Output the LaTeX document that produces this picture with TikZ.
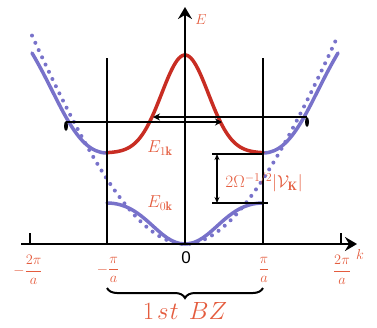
\documentclass[tikz,border=0pt]{standalone}
\usepackage{fontspec}
\newfontfamily\zerofont{Liberation Sans}
\usetikzlibrary{arrows.meta,decorations.pathreplacing,shapes.geometric}
\definecolor{txtred}{RGB}{228,92,62}
\definecolor{curvered}{RGB}{200,45,35}
\definecolor{bandblue}{RGB}{120,114,202}
\tikzset{
  axisline/.style={line width=2.5pt,-{Stealth[length=12pt,width=14pt,inset=4pt]}},
  zoneline/.style={line width=1.2pt},
  blueband/.style={bandblue,line width=3.5pt,line cap=round},
  redband/.style={curvered,line width=3.5pt,line cap=round},
  freedots/.style={bandblue,line width=4pt,line cap=round,dash pattern=on 0pt off 8pt},
  harrow/.style={line width=1.4pt,-{Stealth[length=7pt,width=7pt]}},
  gaparrow/.style={line width=1.1pt,{Stealth[length=6pt,width=5pt]}-{Stealth[length=6pt,width=5pt]}},
  blob/.style={ellipse,fill=black,minimum width=4pt,minimum height=10pt,inner sep=0pt},
  lbl/.style={text=txtred,inner sep=0pt,font=\fontsize{17.5}{20}\selectfont},
  axlbl/.style={text=txtred,inner sep=0pt,font=\fontsize{15.5}{18}\selectfont},
  ticklbl/.style={text=txtred,inner sep=0pt,font=\fontsize{14}{16}\selectfont},
}
\begin{document}
\begin{tikzpicture}[x=1pt,y=-1pt]
\useasboundingbox (0,0) rectangle (377,327);
% free-electron parabola (dotted)
\draw[freedots] plot[domain=-1.53:1.53,samples=121,smooth] ({185+100*\x},{244-125*\x*\x+23.5*abs(\x)*\x*\x});
% lower band
\draw[blueband] (107,203) .. controls (145,203) and (158,244) .. (185,244) .. controls (212,244) and (225,203) .. (263,203);
% upper band outer parts
\draw[blueband] (107,153) .. controls (75,153) and (60,100) .. (32,53);
\draw[blueband] (263,153) .. controls (295,153) and (310,100) .. (338,53);
% upper band inner part
\draw[redband] plot[domain=-78:78,samples=90,smooth] ({185+\x},{153-98*exp(0-(\x/33)*(\x/33))});
% zone boundaries
\coordinate (zlb) at (107,244); \coordinate (zlt) at (107,58);
\coordinate (zrb) at (263,244); \coordinate (zrt) at (263,58);
\draw[zoneline] (zlb) -- (zlt);
\draw[zoneline] (zrb) -- (zrt);
% axes
\coordinate (kstart) at (21,244); \coordinate (kend) at (357,244);
\coordinate (O) at (185,244); \coordinate (Etop) at (185,7);
\draw[axisline] (kstart) -- (kend);
\draw[axisline] (O) -- (Etop);
\coordinate (tl0) at (30,244); \coordinate (tl1) at (30,233);
\coordinate (tr0) at (341,244); \coordinate (tr1) at (341,233);
\draw[line width=2pt] (tl0) -- (tl1);
\draw[line width=2pt] (tr0) -- (tr1);
% umklapp arrows
\node[blob] (bl) at (66,126) {};
\node[blob] (br) at (307,122) {};
\coordinate (la) at (66,122); \coordinate (lb) at (222,122);
\coordinate (ra) at (307,117); \coordinate (rb) at (153,117);
\draw[harrow] (la) -- (lb);
\draw[harrow] (ra) -- (rb);
% gap
\coordinate (g1a) at (212,154); \coordinate (g1b) at (263,154);
\coordinate (g2a) at (212,203); \coordinate (g2b) at (268,203);
\draw[zoneline] (g1a) -- (g1b);
\draw[zoneline] (g2a) -- (g2b);
\coordinate (gt) at (217,154); \coordinate (gb) at (217,203);
\draw[gaparrow] (gt) -- (gb);
% labels
\node[axlbl] (Elab) at (201,20) {$E$};
\node[axlbl] (klab) at (360,254) {$k$};
\node[lbl] (E1) at (160,148) {$E_{1\mathbf{k}}$};
\node[lbl] (E0) at (160,203) {$E_{0\mathbf{k}}$};
\node[lbl] (gaplab) at (264,182) {$2\Omega^{-1/2}|\mathcal{V}_{\mathbf{K}}|$};
\node[ticklbl] (m2) at (28,270) {$-\displaystyle\frac{2\pi}{a}$};
\node[ticklbl] (m1) at (108,270) {$-\displaystyle\frac{\pi}{a}$};
\node[ticklbl] (p1) at (264,270) {$\displaystyle\frac{\pi}{a}$};
\node[ticklbl] (p2) at (342,270) {$\displaystyle\frac{2\pi}{a}$};
\node[inner sep=0pt,font=\zerofont\fontsize{17}{19}\selectfont] (zero) at (186,258) {0};
% first Brillouin zone brace
\coordinate (bra) at (263,288); \coordinate (brb) at (107,288);
\draw[line width=2pt,decorate,decoration={brace,amplitude=10pt}] (bra) -- (brb);
\node[text=txtred,inner sep=0pt,font=\fontsize{25}{29}\selectfont] (bz) at (185,311) {$1\mkern2mu s\mkern1mu t\hspace{10pt}BZ$};
\end{tikzpicture}
\end{document}
